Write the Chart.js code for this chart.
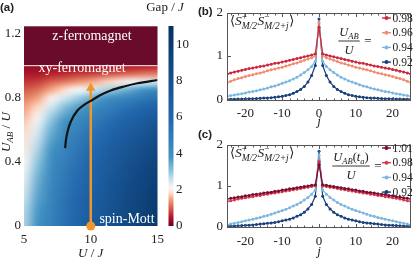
<!DOCTYPE html>
<html><head><meta charset="utf-8">
<script src="https://cdn.jsdelivr.net/npm/chart.js@4.4.1/dist/chart.umd.min.js"></script>
<style>
html,body{margin:0;padding:0;background:#fff;}
#wrap{position:relative;width:415px;height:260px;overflow:hidden;background:#fff;}
#wrap canvas{position:absolute;}
</style></head><body>
<div id="wrap">
<canvas id="ca" width="196" height="260" style="left:0;top:0;width:196px;height:260px"></canvas>
<canvas id="cb" width="219" height="130" style="left:196px;top:0;width:219px;height:130px"></canvas>
<canvas id="cc" width="219" height="130" style="left:196px;top:130px;width:219px;height:130px"></canvas>
</div>
<script>
// ---------------- DATA ----------------
// panel (a): gap / J on a grid of U/J (columns) and U_AB/U (rows)
const uValues = [5,6,7,8,9,10,11,12,13,14,15];
const uabValues = [0,0.05,0.1,0.15,0.2,0.25,0.3,0.35,0.4,0.45,0.5,0.55,0.6,0.65,0.7,0.75,0.8,0.85,0.9,0.95,1.0];
const gapU5  = [2.8,2.75,2.7,2.6,2.5,2.4,2.3,2.2,2.1,2.0,1.95,1.9,1.8,1.7,1.55,1.4,1.2,0.95,0.7,0.45,0.3];
const gapU6  = [3.8,3.75,3.7,3.6,3.5,3.4,3.3,3.15,3.0,2.85,2.7,2.55,2.4,2.2,2.0,1.75,1.45,1.1,0.75,0.45,0.3];
const gapU7  = [4.7,4.65,4.6,4.5,4.45,4.35,4.25,4.15,4.0,3.85,3.7,3.5,3.3,3.05,2.75,2.4,2.0,1.5,1.0,0.55,0.3];
const gapU8  = [5.5,5.45,5.4,5.35,5.25,5.15,5.05,4.95,4.8,4.65,4.5,4.3,4.1,3.8,3.45,3.0,2.45,1.8,1.15,0.6,0.35];
const gapU9  = [6.2,6.15,6.1,6.05,5.95,5.85,5.75,5.6,5.45,5.3,5.1,4.9,4.65,4.35,3.95,3.5,2.85,2.1,1.35,0.7,0.35];
const gapU10 = [6.9,6.85,6.8,6.7,6.6,6.5,6.4,6.25,6.1,5.95,5.75,5.5,5.25,4.9,4.5,4.0,3.3,2.4,1.5,0.75,0.4];
const gapU11 = [7.6,7.55,7.5,7.4,7.3,7.2,7.05,6.9,6.75,6.55,6.35,6.1,5.8,5.45,5.0,4.5,3.75,2.75,1.7,0.85,0.4];
const gapU12 = [8.3,8.25,8.2,8.1,8.0,7.9,7.75,7.6,7.4,7.2,7.0,6.7,6.4,6.0,5.55,5.0,4.2,3.1,1.9,0.95,0.45];
const gapU13 = [9.0,8.95,8.85,8.75,8.65,8.55,8.4,8.25,8.05,7.85,7.6,7.3,6.95,6.55,6.05,5.45,4.6,3.45,2.1,1.05,0.5];
const gapU14 = [9.6,9.55,9.45,9.35,9.25,9.15,9.0,8.85,8.65,8.4,8.15,7.85,7.5,7.05,6.55,5.9,5.0,3.8,2.3,1.15,0.5];
const gapU15 = [10.2,10.15,10.05,9.95,9.85,9.7,9.55,9.4,9.2,8.95,8.7,8.4,8.0,7.55,7.0,6.35,5.4,4.1,2.5,1.2,0.55];
const gapColumns = [gapU5,gapU6,gapU7,gapU8,gapU9,gapU10,gapU11,gapU12,gapU13,gapU14,gapU15];
const zFerroRange = [1.0, 1.245];
const boundaryU   = [8.08,8.15,8.3,8.5,9.0,9.5,10,10.7,11.5,12.5,13.5,15];
const boundaryUab = [0.486,0.54,0.6,0.65,0.72,0.755,0.78,0.815,0.845,0.87,0.89,0.91];
const quenchU   = [10,10];
const quenchUab = [0,0.86];
const uTicks = [5,10,15];
const uabTicks = [0,0.4,0.8,1.2];
const gapTicks = [0,2,4,6,8,10];
const phaseLabels = ['z-ferromagnet','xy-ferromagnet','spin-Mott'];

// panels (b),(c): correlations vs j
const jValues = [-25,-24,-23,-22,-21,-20,-19,-18,-17,-16,-15,-14,-13,-12,-11,-10,-9,-8,-7,-6,-5,-4,-3,-2,-1,0,1,2,3,4,5,6,7,8,9,10,11,12,13,14,15,16,17,18,19,20,21,22,23,24,25];
const jTicks = [-20,-10,0,10,20];
const corrTicks = [0,1,2];
const labelsB = ['0.98','0.96','0.94','0.92'];
const corrB098 = [0.58,0.61,0.63,0.65,0.67,0.69,0.71,0.72,0.74,0.76,0.77,0.79,0.81,0.83,0.84,0.86,0.88,0.90,0.92,0.94,0.96,0.98,1.00,1.02,1.05,1.66,1.05,1.02,1.00,0.98,0.96,0.94,0.92,0.90,0.88,0.86,0.84,0.83,0.81,0.79,0.77,0.76,0.74,0.72,0.71,0.69,0.67,0.65,0.63,0.61,0.58];
const corrB096 = [0.38,0.42,0.45,0.48,0.50,0.53,0.55,0.57,0.59,0.61,0.63,0.66,0.68,0.70,0.72,0.74,0.77,0.79,0.82,0.84,0.87,0.90,0.93,0.96,1.00,1.74,1.00,0.96,0.93,0.90,0.87,0.84,0.82,0.79,0.77,0.74,0.72,0.70,0.68,0.66,0.63,0.61,0.59,0.57,0.55,0.53,0.50,0.48,0.45,0.42,0.38];
const corrB094 = [0.07,0.09,0.10,0.12,0.13,0.15,0.17,0.18,0.20,0.22,0.24,0.26,0.29,0.31,0.34,0.37,0.40,0.43,0.47,0.51,0.56,0.62,0.68,0.76,0.88,1.78,0.88,0.76,0.68,0.62,0.56,0.51,0.47,0.43,0.40,0.37,0.34,0.31,0.29,0.26,0.24,0.22,0.20,0.18,0.17,0.15,0.13,0.12,0.10,0.09,0.07];
const corrB092 = [0.004,0.005,0.006,0.008,0.01,0.012,0.015,0.018,0.02,0.025,0.03,0.035,0.04,0.05,0.06,0.07,0.09,0.11,0.14,0.18,0.23,0.30,0.40,0.55,0.78,1.85,0.78,0.55,0.40,0.30,0.23,0.18,0.14,0.11,0.09,0.07,0.06,0.05,0.04,0.035,0.03,0.025,0.02,0.018,0.015,0.012,0.01,0.008,0.006,0.005,0.004];
const labelsC = ['1.01','0.98','0.94','0.92'];
const corrC101 = [0.68,0.70,0.71,0.73,0.74,0.76,0.77,0.79,0.80,0.81,0.83,0.84,0.85,0.87,0.88,0.90,0.91,0.93,0.94,0.96,0.97,0.99,1.00,1.02,1.03,1.52,1.03,1.02,1.00,0.99,0.97,0.96,0.94,0.93,0.91,0.90,0.88,0.87,0.85,0.84,0.83,0.81,0.80,0.79,0.77,0.76,0.74,0.73,0.71,0.70,0.68];
const corrC098 = [0.62,0.64,0.66,0.68,0.70,0.71,0.73,0.74,0.76,0.77,0.79,0.80,0.82,0.83,0.85,0.86,0.88,0.89,0.91,0.92,0.94,0.96,0.97,0.99,1.00,1.60,1.00,0.99,0.97,0.96,0.94,0.92,0.91,0.89,0.88,0.86,0.85,0.83,0.82,0.80,0.79,0.77,0.76,0.74,0.73,0.71,0.70,0.68,0.66,0.64,0.62];
const corrC094 = [0.05,0.07,0.09,0.11,0.13,0.15,0.17,0.19,0.21,0.23,0.26,0.28,0.31,0.34,0.37,0.40,0.43,0.47,0.51,0.55,0.60,0.66,0.72,0.80,0.90,1.75,0.90,0.80,0.72,0.66,0.60,0.55,0.51,0.47,0.43,0.40,0.37,0.34,0.31,0.28,0.26,0.23,0.21,0.19,0.17,0.15,0.13,0.11,0.09,0.07,0.05];
const corrC092 = [0.02,0.02,0.025,0.03,0.035,0.04,0.045,0.05,0.06,0.07,0.08,0.09,0.10,0.11,0.13,0.15,0.17,0.19,0.22,0.26,0.30,0.36,0.44,0.55,0.75,1.85,0.75,0.55,0.44,0.36,0.30,0.26,0.22,0.19,0.17,0.15,0.13,0.11,0.10,0.09,0.08,0.07,0.06,0.05,0.045,0.04,0.035,0.03,0.025,0.02,0.02];

// ---------------- STYLE ----------------
const colorsB = ['#c92a3d','#f28c6f','#7cb7e0','#173f7c'];
const colorsC = ['#7a0d31','#d63c4e','#7cb7e0','#173f7c'];
const cmapStops = [[0,'#67001f'],[0.5,'#b2182b'],[1.0,'#d6604d'],[1.5,'#f4a582'],[1.8,'#fddbc7'],[2.1,'#f7f7f7'],[2.5,'#d1e5f0'],[3.0,'#92c5de'],[3.8,'#4393c3'],[6.0,'#2166ac'],[11,'#053061']];
const zFerroColor = '#6a0b2c';
const SERIF = "'Liberation Serif','DejaVu Serif','Times New Roman',serif";
const SANS = "'Liberation Sans',Arial,'DejaVu Sans',sans-serif";
const fnt = (s, it) => (it ? 'italic ' : '') + s + 'px ' + SERIF;
const TXT = '#222';

function hex2rgb(h){return [parseInt(h.slice(1,3),16),parseInt(h.slice(3,5),16),parseInt(h.slice(5,7),16)];}
const cmapRGB = cmapStops.map(s=>[s[0],hex2rgb(s[1])]);
function gapColor(v){
  if(v<=cmapRGB[0][0]) return cmapRGB[0][1];
  for(let i=1;i<cmapRGB.length;i++){
    if(v<=cmapRGB[i][0]){const a=cmapRGB[i-1],b=cmapRGB[i];const t=(v-a[0])/(b[0]-a[0]);
      return a[1].map((c,k)=>Math.round(c+(b[1][k]-c)*t));}
  }
  return cmapRGB[cmapRGB.length-1][1];
}

function drawRich(ctx, x, y, parts, align){
  const widths = parts.map(p=>{
    if(p.stack){ctx.font=p.stack.supFont;const a=ctx.measureText(p.stack.sup).width;ctx.font=p.stack.subFont;const b=ctx.measureText(p.stack.sub).width;return Math.max(a,b)+(p.kern||0);}
    ctx.font=p.font; return ctx.measureText(p.t).width+(p.kern||0);
  });
  const w = widths.reduce((s,v)=>s+v,0);
  let cx = align==='center' ? x-w/2 : (align==='right' ? x-w : x);
  ctx.textAlign='left'; ctx.textBaseline='alphabetic';
  parts.forEach((p,i)=>{
    if(p.stack){ctx.font=p.stack.supFont;ctx.fillText(p.stack.sup,cx,y+p.stack.supDy);ctx.font=p.stack.subFont;ctx.fillText(p.stack.sub,cx,y+p.stack.subDy);}
    else {ctx.font=p.font;ctx.fillText(p.t,cx,y+(p.dy||0));}
    cx+=widths[i];
  });
  return w;
}

// ---------------- PANEL (a) ----------------
const heatPlugin = {
  id:'heat',
  beforeDatasetsDraw(chart){
    const {ctx, chartArea:ca, scales:{x,y}} = chart;
    const nC=uValues.length, nR=uabValues.length;
    const off=document.createElement('canvas'); off.width=nC; off.height=nR;
    const octx=off.getContext('2d'); const img=octx.createImageData(nC,nR);
    for(let c=0;c<nC;c++) for(let r=0;r<nR;r++){
      const col=gapColor(gapColumns[c][r]); const idx=((nR-1-r)*nC+c)*4;
      img.data[idx]=col[0];img.data[idx+1]=col[1];img.data[idx+2]=col[2];img.data[idx+3]=255;
    }
    octx.putImageData(img,0,0);
    const du=(uValues[1]-uValues[0])/2, dv=(uabValues[1]-uabValues[0])/2;
    const x0=x.getPixelForValue(uValues[0]-du), x1=x.getPixelForValue(uValues[nC-1]+du);
    const yT=y.getPixelForValue(uabValues[nR-1]+dv), yB=y.getPixelForValue(uabValues[0]-dv);
    const yZ=y.getPixelForValue(zFerroRange[0]);
    ctx.save();
    ctx.beginPath(); ctx.rect(ca.left,yZ,ca.right-ca.left,ca.bottom-yZ); ctx.clip();
    ctx.imageSmoothingEnabled=true; ctx.imageSmoothingQuality='high';
    ctx.drawImage(off,x0,yT,x1-x0,yB-yT);
    ctx.restore();
    const yZt=y.getPixelForValue(zFerroRange[1]);
    ctx.save();
    ctx.fillStyle=zFerroColor; ctx.fillRect(ca.left,yZt,ca.right-ca.left,yZ-yZt);
    ctx.strokeStyle='rgba(255,225,225,0.85)'; ctx.lineWidth=1.3;
    ctx.beginPath(); ctx.moveTo(ca.left,yZ); ctx.lineTo(ca.right,yZ); ctx.stroke();
    ctx.restore();
  },
  afterDraw(chart){
    const {ctx, chartArea:ca, scales:{x,y,cb}} = chart;
    ctx.save();
    // colorbar
    for(let py=Math.floor(cb.top); py<Math.ceil(cb.bottom); py++){
      const v=cb.getValueForPixel(py+0.5); const c=gapColor(v);
      ctx.fillStyle='rgb('+c[0]+','+c[1]+','+c[2]+')'; ctx.fillRect(cb.left+11,py,5,1);
    }
    // phase labels
    ctx.fillStyle='#fff';
    ctx.font=fnt(14,false); ctx.textAlign='center'; ctx.textBaseline='middle';
    ctx.fillText(phaseLabels[0], 92, 36);
    ctx.fillText(phaseLabels[1], 82, 68);
    ctx.fillText(phaseLabels[2], 127, 219);
    // titles
    ctx.fillStyle=TXT;
    drawRich(ctx, 165, 11, [{t:'Gap',font:fnt(13,false)},{t:' / ',font:fnt(13,false)},{t:'J',font:fnt(13,true)}],'center');
    drawRich(ctx, (ca.left+ca.right)/2, 257, [{t:'U',font:fnt(13,true)},{t:' / ',font:fnt(13,false)},{t:'J',font:fnt(13,true)}],'center');
    ctx.save(); ctx.translate(5.5,(ca.top+ca.bottom)/2+6); ctx.rotate(-Math.PI/2);
    drawRich(ctx,0,4.5,[{t:'U',font:fnt(13,true)},{t:'AB',font:fnt(9,true),dy:3},{t:' / ',font:fnt(13,false)},{t:'U',font:fnt(13,true)}],'center');
    ctx.restore();
    ctx.font='bold 11.5px '+SANS; ctx.textAlign='left'; ctx.textBaseline='alphabetic';
    ctx.fillText('(a)',0,11);
    ctx.restore();
  }
};

const tickFont = {family:SERIF, size:13};
new Chart(document.getElementById('ca'), {
  type:'scatter',
  data:{datasets:[
    {data:boundaryU.map((u,i)=>({x:u,y:boundaryUab[i]})), showLine:true, borderColor:'#111', borderWidth:2.2, pointRadius:0, tension:0.35, cubicInterpolationMode:'monotone'},
    {data:quenchU.map((u,i)=>({x:u,y:quenchUab[i]})), showLine:true, borderColor:'#f0962a', borderWidth:2.5,
     pointStyle:['circle','triangle'], pointRadius:[4.5,5.5], pointBackgroundColor:'#f0962a', pointBorderColor:'#f0962a', pointBorderWidth:0, clip:false}
  ]},
  options:{
    responsive:false, animation:false, devicePixelRatio:1,
    layout:{padding:{top:15,left:0,right:0,bottom:0}},
    plugins:{legend:{display:false},tooltip:{enabled:false}},
    scales:{
      x:{type:'linear',min:5,max:15,afterBuildTicks:s=>{s.ticks=uTicks.map(v=>({value:v}));},
         afterFit:s=>{s.height=34;}, grid:{display:false,drawTicks:false}, border:{display:false},
         ticks:{font:tickFont,color:TXT,padding:6,autoSkip:false,maxRotation:0}},
      y:{type:'linear',min:0,max:1.245,afterBuildTicks:s=>{s.ticks=uabTicks.map(v=>({value:v}));},
         afterFit:s=>{s.width=24;}, grid:{display:false,drawTicks:false}, border:{display:false},
         ticks:{font:tickFont,color:TXT,padding:3,autoSkip:false}},
      cb:{type:'linear',position:'right',min:0,max:11,afterBuildTicks:s=>{s.ticks=gapTicks.map(v=>({value:v}));},
         afterFit:s=>{s.width=38.5;}, grid:{display:false,drawTicks:false}, border:{display:false},
         ticks:{font:tickFont,color:TXT,padding:18.5,autoSkip:false}}
    }
  },
  plugins:[heatPlugin]
});

// ---------------- PANELS (b),(c) ----------------
function corrPlugin(panel, legendLabels, colors, fracParts, eqX, fracCfg){
  return {
    id:'corr'+panel,
    afterDraw(chart){
      const {ctx, chartArea:a, scales:{x,y}} = chart;
      ctx.save();
      ctx.strokeStyle='#555'; ctx.lineWidth=1;
      const L=Math.round(a.left)+0.5, R=Math.round(a.right)-0.5, T=Math.round(a.top)+0.5, B=Math.round(a.bottom)-0.5;
      ctx.strokeRect(L,T,R-L,B-T);
      ctx.beginPath();
      for(let j=-24;j<=24;j+=2){
        const px=Math.round(x.getPixelForValue(j))+0.5; const len=(j%10===0)?3.5:2;
        ctx.moveTo(px,B); ctx.lineTo(px,B-len); ctx.moveTo(px,T); ctx.lineTo(px,T+len);
      }
      corrTicks.forEach(v=>{const py=Math.round(y.getPixelForValue(v))+0.5; ctx.moveTo(L,py); ctx.lineTo(L+3.5,py); ctx.moveTo(R,py); ctx.lineTo(R-3.5,py);});
      ctx.stroke();
      ctx.fillStyle=TXT;
      ctx.font='bold 11.5px '+SANS; ctx.textAlign='left'; ctx.textBaseline='alphabetic';
      ctx.fillText('('+panel+')',2,panel==='b'?14.5:8);
      drawRich(ctx,(a.left+a.right)/2,125,[{t:'j',font:fnt(13,true)}],'center');
      drawRich(ctx,a.left+3,a.top+12,[
        {t:'\u27E8',font:fnt(13,false)},{t:'S',font:fnt(13.5,true)},
        {stack:{sup:'+',sub:'M/2',supFont:fnt(9.5,false),subFont:fnt(9.5,true),supDy:-5,subDy:4},kern:0.5},
        {t:'S',font:fnt(13.5,true)},
        {stack:{sup:'\u2212',sub:'M/2+j',supFont:fnt(9.5,false),subFont:fnt(9.5,true),supDy:-5,subDy:4},kern:0.5},
        {t:'\u27E9',font:fnt(13,false)}],'left');
      const fx=fracCfg.cx;
      const nw=drawRich(ctx,fx,fracCfg.numY,fracParts,'center');
      ctx.strokeStyle=TXT; ctx.lineWidth=0.9; ctx.beginPath();
      ctx.moveTo(fx-nw/2-1,fracCfg.lineY); ctx.lineTo(fx+nw/2+1,fracCfg.lineY); ctx.stroke();
      drawRich(ctx,fx,fracCfg.denY,[{t:'U',font:fnt(12.5,true)}],'center');
      ctx.font=fnt(13,false); ctx.textAlign='center'; ctx.textBaseline='middle';
      ctx.fillText('=',eqX,fracCfg.lineY+1);
      legendLabels.forEach((lab,i)=>{
        const ly=18+i*14.7; const mx=190.5;
        ctx.strokeStyle=colors[i]; ctx.fillStyle=colors[i]; ctx.lineWidth=1.4;
        ctx.beginPath(); ctx.moveTo(mx-4.5,ly); ctx.lineTo(mx+4.5,ly); ctx.stroke();
        ctx.beginPath(); ctx.arc(mx,ly,2,0,Math.PI*2); ctx.fill();
        ctx.fillStyle=TXT; ctx.font=fnt(11.5,false); ctx.textAlign='left'; ctx.textBaseline='middle';
        ctx.fillText(lab,mx+6,ly+0.5);
      });
      ctx.restore();
    }
  };
}

function corrChart(id, series, legendLabels, colors, topPad, xHeight, xPad, plugin){
  const datasets = series.map((s,i)=>({
    label:legendLabels[i], data:jValues.map((j,k)=>({x:j,y:s[k]})), showLine:true,
    borderColor:colors[i], backgroundColor:colors[i], pointBackgroundColor:colors[i], pointBorderColor:colors[i],
    borderWidth:1.2, pointRadius:1.5, pointBorderWidth:0, pointStyle:'circle', order:i
  }));
  new Chart(document.getElementById(id), {
    type:'scatter', data:{datasets},
    options:{
      responsive:false, animation:false, devicePixelRatio:1,
      layout:{padding:{top:topPad,left:0,right:4,bottom:0}},
      plugins:{legend:{display:false},tooltip:{enabled:false}},
      scales:{
        x:{type:'linear',min:-25,max:25,afterBuildTicks:s=>{s.ticks=jTicks.map(v=>({value:v}));},
           afterFit:s=>{s.height=xHeight;}, grid:{display:false,drawTicks:false}, border:{display:false},
           ticks:{font:tickFont,color:TXT,padding:xPad,autoSkip:false,maxRotation:0}},
        y:{type:'linear',min:-0.025,max:2,afterBuildTicks:s=>{s.ticks=corrTicks.map(v=>({value:v}));},
           afterFit:s=>{s.width=31;}, grid:{display:false,drawTicks:false}, border:{display:false},
           ticks:{font:tickFont,color:TXT,padding:4,autoSkip:false}}
      }
    },
    plugins:[plugin]
  });
}

corrChart('cb',[corrB098,corrB096,corrB094,corrB092],labelsB,colorsB,12.5,29.5,5,
  corrPlugin('b',labelsB,colorsB,[{t:'U',font:fnt(12.5,true)},{t:'AB',font:fnt(8.5,true),dy:3}],172,{cx:153,numY:36,lineY:41,denY:54}));
corrChart('cc',[corrC101,corrC098,corrC094,corrC092],labelsC,colorsC,15,32,5.5,
  corrPlugin('c',labelsC,colorsC,[{t:'U',font:fnt(12.5,true)},{t:'AB',font:fnt(8.5,true),dy:3},{t:'(',font:fnt(12.5,false)},{t:'t',font:fnt(12.5,true)},{t:'a',font:fnt(8.5,true),dy:3},{t:')',font:fnt(12.5,false)}],182,{cx:155,numY:31,lineY:36,denY:49}));
</script></body></html>
